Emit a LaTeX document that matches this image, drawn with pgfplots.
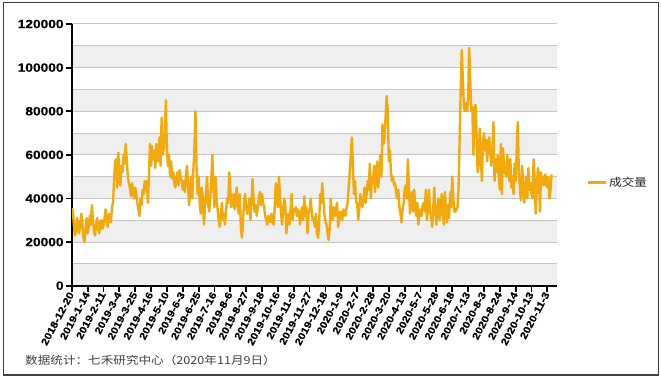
\documentclass[border=0pt]{standalone}
\usepackage{fontspec}
\setmainfont{Liberation Sans}[FakeStretch=1.15, BoldFeatures={FakeBold=0.6}]
\newfontfamily\cjk{Noto Sans CJK SC}[FakeStretch=1.15]
\usepackage{pgfplots}
\pgfplotsset{compat=1.18}
\definecolor{lineor}{HTML}{F2A90E}
\definecolor{band}{HTML}{EFEFEF}
\definecolor{gridc}{HTML}{C4C4C4}
\begin{document}
\begin{tikzpicture}
\useasboundingbox (0,0) rectangle (661bp,378bp);
\draw[black!75, line width=1.2bp] (3.5bp,3bp) rectangle (658.5bp,375.3bp);
\node[anchor=west, font=\cjk\fontsize{11}{11}\selectfont, text=black!75, inner sep=0pt] at (25bp,18bp) {数据统计：七禾研究中心（2020年11月9日）};
\foreach \b in {0,2,4,6,8,10} {
  \pgfmathsetmacro{\ya}{92.3+\b*21.808}
  \pgfmathsetmacro{\yb}{92.3+(\b+1)*21.808}
  \fill[band] (71.8bp,\ya bp) rectangle (557.4bp,\yb bp);
}
\begin{axis}[
  at={(71.8bp,92.3bp)}, anchor=south west,
  width=485.6bp, height=261.7bp, scale only axis,
  xmin=0, xmax=459.5, ymin=0, ymax=120000,
  axis x line*=bottom, axis y line*=left,
  axis line style={line width=2bp, black},
  tick align=outside,
  major tick length=6bp, minor tick length=0pt,
  tick style={black, line width=1.8bp},
  ymajorgrids, yminorgrids, minor y tick num=1,
  major grid style={gridc, line width=1bp},
  minor grid style={gridc, line width=1bp},
  scaled y ticks=false,
  ytick={0,20000,40000,60000,80000,100000,120000},
  yticklabels={0,20000,40000,60000,80000,100000,120000},
  yticklabel style={font=\bfseries\fontsize{12}{12}\selectfont, inner sep=2bp},
  xtick={0,15,...,450},
  xticklabels={2018-12-20,2019-1-14,2019-2-11,2019-3-4,2019-3-25,2019-4-16,2019-5-10,2019-6-3,2019-6-25,2019-7-16,2019-8-6,2019-8-27,2019-9-18,2019-10-16,2019-11-6,2019-11-27,2019-12-18,2020-1-9,2020-2-7,2020-2-28,2020-3-20,2020-4-13,2020-5-7,2020-5-28,2020-6-18,2020-7-13,2020-8-3,2020-8-24,2020-9-14,2020-10-13,2020-11-3},
  xticklabel style={rotate=62, anchor=east, font=\bfseries\fontsize{10}{10}\selectfont, inner sep=1bp},
  legend style={at={(1.059,0.394)}, anchor=west, draw=none, fill=none, inner sep=0pt, font=\cjk\fontsize{11}{11}\selectfont, text=black!85},
  legend image code/.code={\path (0bp,0bp) -- (18bp,0bp); \draw[lineor, line width=3.5bp] (0bp,0bp) -- (12bp,0bp);},
]
\addplot[lineor, line width=2.4bp, line join=round, no markers] coordinates {
(0,35500)(1,34000)(2,28000)(3,23000)(4,25000)(5,31000)(6,27000)(7,24000)(8,29000)(9,33000)(10,28000)(11,22000)(12,20000)(13,26000)(14,31000)
(15,24000)(16,27000)(17,32000)(18,28000)(19,37000)(20,30000)(21,25000)(22,23000)(23,28000)(24,31000)(25,26000)(26,24000)(27,29000)(28,30000)(29,26000)
(30,28000)(31,31000)(32,35000)(33,29000)(34,27000)(35,33000)(36,30000)(37,29000)(38,36000)(39,38000)(40,48000)(41,57000)(42,58000)(43,45000)(44,61000)
(45,50000)(46,46000)(47,55000)(48,52000)(49,60000)(50,56000)(51,65000)(52,58000)(53,50000)(54,47000)(55,45000)(56,41000)(57,47000)(58,43000)(59,40000)
(60,45000)(61,42000)(62,38000)(63,35000)(64,32000)(65,40000)(66,37000)(67,44000)(68,42000)(69,48000)(70,44000)(71,48000)(72,38000)(73,50000)(74,65000)
(75,55000)(76,64000)(77,58000)(78,62000)(79,54000)(80,65000)(81,60000)(82,57000)(83,68000)(84,55000)(85,77000)(86,60000)(87,63000)(88,70000)(89,85000)
(90,62000)(91,55000)(92,60000)(93,50000)(94,57000)(95,49000)(96,52000)(97,47000)(98,45000)(99,50000)(100,52000)(101,46000)(102,53000)(103,50000)(104,48000)
(105,44000)(106,48000)(107,43000)(108,50000)(109,55000)(110,46000)(111,37000)(112,44000)(113,50000)(114,40000)(115,53000)(116,62000)(117,80000)(118,55000)(119,42000)
(120,50000)(121,38000)(122,33000)(123,45000)(124,40000)(125,28000)(126,36000)(127,42000)(128,50000)(129,38000)(130,34000)(131,40000)(132,48000)(133,60000)(134,45000)
(135,36000)(136,50000)(137,40000)(138,35000)(139,30000)(140,27000)(141,32000)(142,38000)(143,30000)(144,33000)(145,28000)(146,35000)(147,40000)(148,38000)(149,52000)
(150,44000)(151,36000)(152,38000)(153,42000)(154,35000)(155,40000)(156,45000)(157,36000)(158,33000)(159,42000)(160,26000)(161,22000)(162,30000)(163,38000)(164,42000)
(165,36000)(166,33000)(167,35000)(168,40000)(169,30000)(170,38000)(171,49000)(172,40000)(173,34000)(174,37000)(175,32000)(176,36000)(177,40000)(178,43000)(179,37000)
(180,42000)(181,38000)(182,36000)(183,32000)(184,30000)(185,28000)(186,32000)(187,31000)(188,29000)(189,33000)(190,30000)(191,28000)(192,36000)(193,47000)(194,40000)
(195,36000)(196,50000)(197,41000)(198,33000)(199,28000)(200,35000)(201,40000)(202,37000)(203,24000)(204,30000)(205,33000)(206,28000)(207,35000)(208,42000)(209,30000)
(210,35000)(211,34000)(212,36000)(213,32000)(214,35000)(215,33000)(216,28000)(217,34000)(218,36000)(219,30000)(220,41000)(221,32000)(222,36000)(223,24000)(224,33000)
(225,35000)(226,40000)(227,34000)(228,30000)(229,31000)(230,27000)(231,33000)(232,24000)(233,22000)(234,28000)(235,42000)(236,38000)(237,47000)(238,40000)(239,33000)
(240,30000)(241,28000)(242,24000)(243,21000)(244,26000)(245,40000)(246,34000)(247,30000)(248,36000)(249,32000)(250,35000)(251,38000)(252,27000)(253,30000)(254,34000)
(255,33000)(256,30000)(257,35000)(258,34000)(259,32000)(260,36000)(261,38000)(262,45000)(263,52000)(264,60000)(265,68000)(266,55000)(267,42000)(268,48000)(269,38000)
(270,38000)(271,30000)(272,35000)(273,42000)(274,38000)(275,36000)(276,40000)(277,45000)(278,38000)(279,42000)(280,48000)(281,44000)(282,56000)(283,40000)(284,50000)
(285,47000)(286,55000)(287,43000)(288,52000)(289,57000)(290,45000)(291,52000)(292,60000)(293,50000)(294,74000)(295,65000)(296,68000)(297,78000)(298,87000)(299,80000)
(300,57000)(301,62000)(302,52000)(303,48000)(304,50000)(305,46000)(306,47000)(307,42000)(308,40000)(309,44000)(310,36000)(311,33000)(312,29000)(313,35000)(314,38000)
(315,44000)(316,46000)(317,40000)(318,58000)(319,45000)(320,33000)(321,38000)(322,43000)(323,34000)(324,44000)(325,36000)(326,32000)(327,38000)(328,28000)(329,33000)
(330,35000)(331,32000)(332,37000)(333,38000)(334,34000)(335,44000)(336,30000)(337,35000)(338,44000)(339,34000)(340,32000)(341,27000)(342,36000)(343,45000)(344,34000)
(345,28000)(346,36000)(347,40000)(348,30000)(349,33000)(350,42000)(351,35000)(352,28000)(353,43000)(354,35000)(355,29000)(356,37000)(357,31000)(358,43000)(359,36000)
(360,50000)(361,40000)(362,34000)(363,34000)(364,35000)(365,36000)(366,45000)(367,68000)(368,90000)(369,108000)(370,95000)(371,82000)(372,80000)(373,84000)(374,80000)
(375,85000)(376,109000)(377,95000)(378,80000)(379,82000)(380,60000)(381,80000)(382,83000)(383,70000)(384,52000)(385,55000)(386,72000)(387,60000)(388,48000)(389,65000)
(390,70000)(391,62000)(392,67000)(393,57000)(394,65000)(395,68000)(396,60000)(397,55000)(398,62000)(399,75000)(400,48000)(401,58000)(402,52000)(403,60000)(404,50000)
(405,44000)(406,65000)(407,42000)(408,63000)(409,55000)(410,52000)(411,50000)(412,60000)(413,55000)(414,48000)(415,58000)(416,45000)(417,50000)(418,42000)(419,56000)
(420,48000)(421,62000)(422,75000)(423,52000)(424,45000)(425,39000)(426,55000)(427,48000)(428,38000)(429,42000)(430,50000)(431,40000)(432,54000)(433,44000)(434,47000)
(435,42000)(436,40000)(437,58000)(438,48000)(439,33000)(440,45000)(441,54000)(442,50000)(443,34000)(444,52000)(445,46000)(446,50000)(447,46000)(448,51000)(449,48000)
(450,45000)(451,50000)(452,40000)(453,44000)(454,51000)
};
\addlegendentry{成交量}
\end{axis}
\end{tikzpicture}
\end{document}
